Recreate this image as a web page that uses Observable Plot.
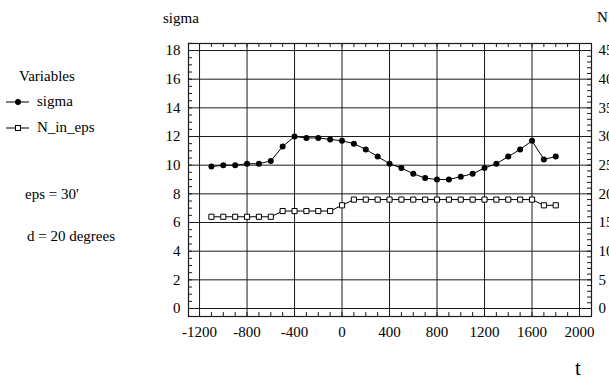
<!DOCTYPE html>
<html>
<head>
<meta charset="utf-8">
<script src="https://cdn.jsdelivr.net/npm/d3@7"></script>
<script src="https://cdn.jsdelivr.net/npm/@observablehq/plot@0.6"></script>
<style>
  html, body { margin: 0; padding: 0; background: white; overflow: hidden; }
  #wrap { position: relative; width: 609px; height: 378px; overflow: hidden; background: white; }
  #wrap > svg { position: absolute; left: 0; top: 0; }
</style>
</head>
<body>
<div id="wrap"></div>
<script>
// ---- data ----
const t = [-1100, -1000, -900, -800, -700, -600, -500, -400, -300, -200, -100, 0, 100, 200, 300,
           400, 500, 600, 700, 800, 900, 1000, 1100, 1200, 1300, 1400, 1500, 1600, 1700, 1800];
const sigma = [9.9, 10.0, 10.0, 10.1, 10.1, 10.3, 11.3, 12.0, 11.9, 11.9, 11.8, 11.7, 11.5, 11.1, 10.6,
               10.1, 9.8, 9.4, 9.1, 9.0, 9.0, 9.2, 9.4, 9.8, 10.1, 10.6, 11.1, 11.7, 10.4, 10.6];
const nInEps = [16, 16, 16, 16, 16, 16, 17, 17, 17, 17, 17, 18, 19, 19, 19,
                19, 19, 19, 19, 19, 19, 19, 19, 19, 19, 19, 19, 19, 18, 18];
const xTicks = [-1200, -800, -400, 0, 400, 800, 1200, 1600, 2000];
const yTicks = [0, 2, 4, 6, 8, 10, 12, 14, 16, 18];
const nTicks = [0, 5, 10, 15, 20, 25, 30, 35, 40, 45];

// right axis maps N onto the sigma scale (45 <-> 18)
const ratio = yTicks[yTicks.length - 1] / nTicks[nTicks.length - 1];
const data = t.map((v, i) => ({t: v, sigma: sigma[i], N: nInEps[i] * ratio}));

const xMinor = d3.range(-1200, 2001, 100);
const yMinor = d3.range(0, 18.51, 0.5);
const nMinor = d3.range(0, 46, 1).map(n => n * ratio);

const W = 609, H = 378, mL = 188, mR = 18, mT = 43, mB = 62;
const fw = W - mL - mR, fh = H - mT - mB;
const ink = "#1a1a1a";

const plot = Plot.plot({
  width: W, height: H,
  marginLeft: mL, marginRight: mR, marginTop: mT, marginBottom: mB,
  style: {fontFamily: "'Liberation Serif', 'Times New Roman', serif", fontSize: "15px", background: "white", color: "black", overflow: "hidden"},
  x: {domain: [-1293, 2101]},
  y: {domain: [-0.558, 18.49]},
  marks: [
    Plot.ruleX(xTicks, {stroke: ink, strokeWidth: 1}),
    Plot.ruleY(yTicks, {stroke: ink, strokeWidth: 1}),
    Plot.tickX(xMinor, {x: d => d, insetTop: fh - 4, stroke: ink}),
    Plot.tickX(xMinor, {x: d => d, insetBottom: fh - 4, stroke: ink}),
    Plot.tickY(yMinor, {y: d => d, insetRight: fw - 4, stroke: ink}),
    Plot.tickY(nMinor, {y: d => d, insetLeft: fw - 4, stroke: ink}),
    Plot.frame({stroke: ink, strokeWidth: 1.2}),
    Plot.axisX({ticks: xTicks, tickSize: 0, tickPadding: 10, label: null, tickFormat: d => String(d)}),
    Plot.axisY({ticks: yTicks, anchor: "left", tickSize: 0, tickPadding: 8, label: null, tickFormat: d => String(d)}),
    Plot.axisY({ticks: yTicks, anchor: "right", tickSize: 0, tickPadding: 7, label: null,
                tickFormat: (d, i) => String(nTicks[yTicks.indexOf(d)])}),
    Plot.line(data, {x: "t", y: "sigma", stroke: "black", strokeWidth: 1}),
    Plot.dot(data, {x: "t", y: "sigma", fill: "black", stroke: "none", r: 3}),
    Plot.line(data, {x: "t", y: "N", stroke: "black", strokeWidth: 1}),
    Plot.dot(data, {x: "t", y: "N", symbol: "square", fill: "white", stroke: "black", strokeWidth: 1, r: 2.9})
  ]
});
const wrap = document.getElementById("wrap");
wrap.appendChild(plot);

// ---- annotations & legend overlay ----
const ov = d3.select(wrap).append("svg")
  .attr("width", W).attr("height", H)
  .style("position", "absolute").style("left", "0px").style("top", "0px")
  .style("font-family", "'Liberation Serif', 'Times New Roman', serif")
  .style("font-size", "15px");

ov.append("text").attr("x", 163).attr("y", 23).text("sigma");
ov.append("text").attr("x", 597).attr("y", 22).text("N");
ov.append("text").attr("x", 575).attr("y", 375).style("font-size", "21px").text("t");

ov.append("text").attr("x", 19).attr("y", 81).text("Variables");
// sigma legend
ov.append("line").attr("x1", 6).attr("x2", 29).attr("y1", 102).attr("y2", 102).attr("stroke", "black");
ov.append("circle").attr("cx", 18).attr("cy", 102).attr("r", 3).attr("fill", "black");
ov.append("text").attr("x", 37).attr("y", 106).text("sigma");
// N_in_eps legend
ov.append("line").attr("x1", 6).attr("x2", 29).attr("y1", 128).attr("y2", 128).attr("stroke", "black");
ov.append("rect").attr("x", 15.5).attr("y", 125.5).attr("width", 5).attr("height", 5).attr("fill", "white").attr("stroke", "black");
ov.append("text").attr("x", 37).attr("y", 132).text("N_in_eps");

ov.append("text").attr("x", 25).attr("y", 199).text("eps = 30'");
ov.append("text").attr("x", 27).attr("y", 241).text("d = 20 degrees");
</script>
</body>
</html>
